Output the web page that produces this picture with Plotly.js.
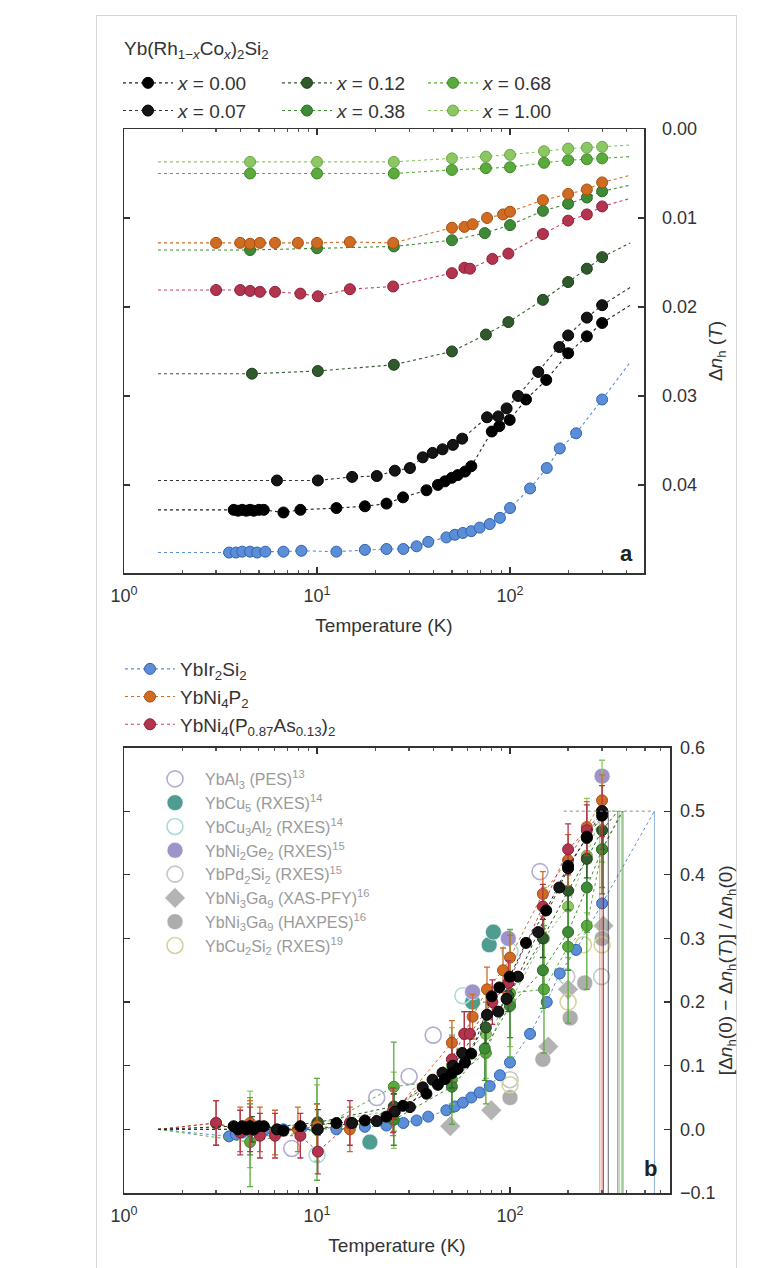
<!DOCTYPE html>
<html><head><meta charset="utf-8">
<script src="https://cdn.plot.ly/plotly-3.0.1.min.js"></script>
<style>
html,body{margin:0;padding:0;background:#fff;}
#frame{position:absolute;left:96px;top:15px;width:639px;height:1262px;border:1px solid #d6d6d6;border-bottom:none;}
#chart{position:absolute;left:0;top:0;width:761px;height:1268px;}
</style>
</head><body><div id="frame"></div><div id="chart"></div>
<script>
// ---------------- DATA ----------------
const T_LOW = 1.5;            // low-temperature end of the fitted (dotted) curves
const T_HIGH = 420;           // high-temperature end of the fitted curves in panel a
const B_ZERO = 0;             // normalised value of every fit at T -> 0 (panel b)
const HALF_LINE_START = 190;  // start of the dotted 0.5 guide line in panel b

// Yb(Rh1-xCox)2Si2
const T_x000 = [3.7,3.9,4.1,4.3,4.5,4.7,5.0,5.3,6.7,8.2,12.6,17.7,22.9,27.9,36.9,42.3,46,49.9,53.6,58.5,63,80.4,88,99.6,121,154,200,250,300];
const a_x000 = [0.0428,0.0429,0.0428,0.0429,0.0428,0.0429,0.0428,0.0428,0.0431,0.0428,0.0426,0.0424,0.0421,0.0414,0.0406,0.0400,0.0396,0.0392,0.0389,0.0385,0.0379,0.0340,0.0334,0.0327,0.0304,0.0282,0.0252,0.0233,0.0218];
const b_x000 = [0.005,0.0,0.005,0.0,0.005,0.0,0.005,0.005,-0.002,0.005,0.01,0.014,0.02,0.037,0.056,0.07,0.079,0.088,0.095,0.105,0.119,0.209,0.223,0.24,0.293,0.344,0.414,0.458,0.493];

const T_x007 = [6.2,10.1,15.2,20.4,25.3,30.3,35.3,39.7,44.7,50.6,56.5,76,87,96,110,140,180,200,250,300];
const a_x007 = [0.0395,0.0395,0.0391,0.0390,0.0384,0.0381,0.0369,0.0364,0.0360,0.0355,0.0348,0.0324,0.0323,0.0314,0.0300,0.0273,0.0245,0.0232,0.0212,0.0198];
const b_x007 = [0.0,0.0,0.01,0.013,0.028,0.035,0.066,0.078,0.089,0.10,0.12,0.18,0.185,0.205,0.24,0.31,0.38,0.41,0.46,0.50];

const T_x012 = [4.6,10.1,25,50,75,98,148,200,250,300];
const a_x012 = [0.0275,0.0272,0.0265,0.0250,0.0231,0.0217,0.0192,0.0172,0.0157,0.0144];
const b_x012 = [0.0,0.011,0.036,0.09,0.16,0.21,0.30,0.375,0.425,0.47];
const e_x012 = [0.02,0.02,0.02,0.025,0.025,0.025,0.03,0.03,0.03,0.03];

const T_x038 = [4.5,10,25,50,74,100,148,200,250,300];
const a_x038 = [0.0136,0.0134,0.0132,0.0125,0.0117,0.0108,0.0092,0.0084,0.0077,0.0070];
const b_x038 = [0.0,0.0,0.015,0.067,0.127,0.194,0.25,0.31,0.38,0.44];
const e_x038 = [0.04,0.04,0.04,0.04,0.05,0.05,0.06,0.06,0.07,0.07];

const T_x068 = [4.5,10,25,50,75,100,150,200,250,300];
const a_x068 = [0.0050,0.0050,0.0050,0.0046,0.0044,0.0043,0.0038,0.0035,0.0034,0.0033];
const b_x068 = [-0.02,0.0,0.067,0.078,0.12,0.214,0.22,0.287,0.32,0.44];
const e_x068 = [0.07,0.08,0.07,0.07,0.08,0.10,0.10,0.12,0.10,0.06];

const T_x100 = [4.5,10,25,50,75,100,150,200,250,300];
const a_x100 = [0.0037,0.0037,0.0037,0.0033,0.0031,0.0029,0.0025,0.0022,0.0021,0.0020];
const b_x100 = [0.0,0.01,0.03,0.1,0.15,0.2,0.30,0.35,0.43,0.50];
const e_x100 = [0.06,0.06,0.06,0.06,0.07,0.07,0.08,0.08,0.09,0.08];

// YbIr2Si2
const T_ir = [3.5,3.8,4.1,4.5,4.9,5.4,6.7,8.3,12.6,17.7,22.9,28,32.8,37.7,46.8,51.8,57,63,69.6,78.5,88.6,100,127,155,181,220,300];
const a_ir = [0.0476,0.0476,0.0475,0.0475,0.0476,0.0475,0.0475,0.0474,0.0475,0.0473,0.0472,0.0472,0.0469,0.0464,0.0459,0.0456,0.0454,0.0452,0.0448,0.0444,0.0437,0.0426,0.0404,0.0381,0.0359,0.0342,0.0304];
const b_ir = [-0.011,-0.008,-0.005,-0.003,0.0,0.0,0.0,0.002,0.0,0.004,0.006,0.01,0.014,0.02,0.03,0.036,0.042,0.05,0.058,0.068,0.085,0.105,0.15,0.2,0.245,0.282,0.355];

// YbNi4P2
const T_p = [3,4,4.5,5.06,6.06,7.96,10,14.8,24.8,50,58,64,76,92,100,148,200,250,300];
const a_p = [0.0128,0.0128,0.0129,0.0128,0.0128,0.0128,0.0128,0.0127,0.0128,0.0111,0.0110,0.0107,0.0100,0.0096,0.0093,0.0080,0.0073,0.0068,0.0060];
const b_p = [0.01,0.0,0.01,0.0,-0.005,0.0,0.005,0.0,0.025,0.136,0.15,0.177,0.22,0.25,0.27,0.37,0.423,0.475,0.517];
const e_p = [0.035,0.035,0.035,0.035,0.035,0.035,0.035,0.035,0.035,0.035,0.035,0.035,0.035,0.035,0.035,0.035,0.04,0.04,0.04];

// YbNi4(P0.87As0.13)2
const T_as = [3,4,4.5,5.06,6.06,8.2,10.1,14.8,24.8,50,58,62,81,98,148,200,250,300];
const a_as = [0.0181,0.0181,0.0182,0.0183,0.0183,0.0185,0.0188,0.0180,0.0177,0.0162,0.0156,0.0157,0.0146,0.0140,0.0118,0.0103,0.0096,0.0087];
const b_as = [0.01,-0.005,0.0,-0.01,-0.01,-0.01,-0.035,0.01,0.03,0.11,0.15,0.15,0.20,0.23,0.35,0.44,0.47,0.50];
const e_as = [0.035,0.035,0.035,0.035,0.035,0.035,0.035,0.035,0.035,0.035,0.035,0.035,0.035,0.035,0.035,0.04,0.04,0.04];

// panel a: value of each fit at T_HIGH (end of the dotted curves)
const end_x000 = 0.0198, end_x007 = 0.0178, end_x012 = 0.0128, end_x038 = 0.0063, end_x068 = 0.0031, end_x100 = 0.0018;
const end_ir = 0.0262, end_p = 0.0052, end_as = 0.0078;

// panel b: temperatures where the fits reach 0.5
const half_x000 = 323, half_x007 = 305, half_x012 = 362, half_x038 = 385, half_x068 = 380, half_x100 = 370;
const half_ir = 560, half_p = 292, half_as = 300;

// literature (panel b)
const T_al3 = [7.4,20.4,30,40,143];        const v_al3 = [-0.03,0.05,0.083,0.148,0.405];
const T_cu5 = [18.8,64,78,82];             const v_cu5 = [-0.02,0.20,0.29,0.31];
const T_cu3al2 = [10,57,100];              const v_cu3al2 = [-0.04,0.21,0.28];
const T_ni2ge2 = [64,98,300];              const v_ni2ge2 = [0.216,0.30,0.555];
const T_pd2si2 = [100,197,298];            const v_pd2si2 = [0.078,0.24,0.24];
const T_ga9x = [49,80,158,200,305];        const v_ga9x = [0.005,0.03,0.13,0.22,0.32];
const T_ga9h = [100,148,205,244,300];      const v_ga9h = [0.05,0.11,0.175,0.23,0.30];
const T_cu2si2 = [100,200,240,300];        const v_cu2si2 = [0.07,0.2,0.29,0.29];

// tick labels
const X_TICKS = [1,10,100];
const X_TICKTEXT = ['10<sup>0</sup>','10<sup>1</sup>','10<sup>2</sup>'];
const A_TICKS = [0,0.01,0.02,0.03,0.04];
const B_TICKS = [-0.1,0,0.1,0.2,0.3,0.4,0.5,0.6];

// ---------------- STYLE ----------------
const FONT = 'Liberation Sans, Arial, sans-serif';
const ST = {
  x000:{fill:'#000000',edge:'#000000',line:'#222222'},
  x007:{fill:'#151515',edge:'#000000',line:'#333333'},
  x012:{fill:'#2f5a2c',edge:'#1f3f1c',line:'#2f5a2c'},
  x038:{fill:'#3f8a36',edge:'#2c6a26',line:'#3f8a36'},
  x068:{fill:'#5aab3c',edge:'#3f8a2a',line:'#5aab3c'},
  x100:{fill:'#8cc764',edge:'#6aa848',line:'#8cc764'},
  ir:{fill:'#5b8ed6',edge:'#2f62b3',line:'#5b8ed6'},
  p:{fill:'#d06b22',edge:'#a85010',line:'#d06b22'},
  as:{fill:'#b3344e',edge:'#8c1f38',line:'#c0405a'}
};
const A_XRANGE = [0, 2.694], B_XRANGE = [0, 2.829];
const A_YRANGE = [0.0499, 0], B_YRANGE = [-0.1, 0.6];

const minorVals = [];
[1,10,100].forEach(d => { for (let k = 2; k <= 9; k++) minorVals.push(k*d); });

const traces = [];

function addA(T, V, end, st, name, legend) {
  const last = T.length - 1;
  traces.push({type:'scatter', mode:'lines', x:[T_LOW, T[0]], y:[V[0], V[0]], xaxis:'x', yaxis:'y',
    line:{color:st.line, width:1.1, dash:'dot'}, showlegend:false, hoverinfo:'skip'});
  traces.push({type:'scatter', mode:'lines', x:[T[last], T_HIGH], y:[V[last], end], xaxis:'x', yaxis:'y',
    line:{color:st.line, width:1.1, dash:'dot'}, showlegend:false, hoverinfo:'skip'});
  traces.push({type:'scatter', mode:'lines+markers', x:T, y:V, xaxis:'x', yaxis:'y', name:name,
    legend:legend, showlegend:true,
    line:{color:st.line, width:1.1, dash:'dot'},
    marker:{color:st.fill, size:11, line:{color:st.edge, width:1}}, hoverinfo:'skip'});
}

function addB(T, V, E, st, half) {
  const last = T.length - 1;
  traces.push({type:'scatter', mode:'lines', x:[T_LOW, T[0]], y:[B_ZERO, V[0]], xaxis:'x2', yaxis:'y2',
    line:{color:st.line, width:1, dash:'dot'}, showlegend:false, hoverinfo:'skip'});
  traces.push({type:'scatter', mode:'lines', x:[T[last], half], y:[V[last], 0.5], xaxis:'x2', yaxis:'y2',
    line:{color:st.line, width:1, dash:'dot'}, showlegend:false, hoverinfo:'skip'});
  traces.push({type:'scatter', mode:'lines', x:[half, half], y:[B_YRANGE[0], 0.5], xaxis:'x2', yaxis:'y2',
    line:{color:st.line, width:1}, opacity:0.7, showlegend:false, hoverinfo:'skip'});
  const tr = {type:'scatter', mode:'lines+markers', x:T, y:V, xaxis:'x2', yaxis:'y2',
    line:{color:st.line, width:1, dash:'dot'},
    marker:{color:st.fill, size:11, line:{color:st.edge, width:1}}, showlegend:false, hoverinfo:'skip'};
  if (E) tr.error_y = {type:'data', array:E, visible:true, color:st.fill, thickness:1.3, width:3};
  traces.push(tr);
}

function addLit(T, V, name, symbol, color, open) {
  traces.push({type:'scatter', mode:'markers', x:T, y:V, xaxis:'x2', yaxis:'y2', name:name, legend:'legend5',
    marker:{symbol:symbol, size:16, color:color,
      line: open ? {color:color, width:1.6} : {color:'rgba(255,255,255,0.6)', width:1}},
    hoverinfo:'skip'});
}

// ---- panel b literature (drawn first, behind) ----
addLit(T_al3, v_al3, 'YbAl<sub>3</sub> (PES)<sup>13</sup>', 'circle-open', '#b5acd4', true);
addLit(T_cu5, v_cu5, 'YbCu<sub>5</sub> (RXES)<sup>14</sup>', 'circle', '#4e9d90', false);
addLit(T_cu3al2, v_cu3al2, 'YbCu<sub>3</sub>Al<sub>2</sub> (RXES)<sup>14</sup>', 'circle-open', '#a9dcda', true);
addLit(T_ni2ge2, v_ni2ge2, 'YbNi<sub>2</sub>Ge<sub>2</sub> (RXES)<sup>15</sup>', 'circle', '#9d94cc', false);
addLit(T_pd2si2, v_pd2si2, 'YbPd<sub>2</sub>Si<sub>2</sub> (RXES)<sup>15</sup>', 'circle-open', '#c6c6c6', true);
addLit(T_ga9x, v_ga9x, 'YbNi<sub>3</sub>Ga<sub>9</sub> (XAS-PFY)<sup>16</sup>', 'diamond', '#b4b4b4', false);
addLit(T_ga9h, v_ga9h, 'YbNi<sub>3</sub>Ga<sub>9</sub> (HAXPES)<sup>16</sup>', 'circle', '#adadad', false);
addLit(T_cu2si2, v_cu2si2, 'YbCu<sub>2</sub>Si<sub>2</sub> (RXES)<sup>19</sup>', 'circle-open', '#d8d29a', true);

// ---- panel b series ----
addB(T_ir, b_ir, null, ST.ir, half_ir);
addB(T_x100, b_x100, e_x100, ST.x100, half_x100);
addB(T_x068, b_x068, e_x068, ST.x068, half_x068);
addB(T_x038, b_x038, e_x038, ST.x038, half_x038);
addB(T_x012, b_x012, e_x012, ST.x012, half_x012);
addB(T_p, b_p, e_p, ST.p, half_p);
addB(T_as, b_as, e_as, ST.as, half_as);
addB(T_x007, b_x007, null, ST.x007, half_x007);
addB(T_x000, b_x000, null, ST.x000, half_x000);
const halves = [half_x000, half_x007, half_x012, half_x038, half_x068, half_x100, half_ir, half_p, half_as];
traces.push({type:'scatter', mode:'lines', x:[HALF_LINE_START, Math.max(...halves)], y:[0.5, 0.5], xaxis:'x2', yaxis:'y2',
  line:{color:'#888', width:1, dash:'dot'}, showlegend:false, hoverinfo:'skip'});

// ---- panel a ----
addA(T_x000, a_x000, end_x000, ST.x000, '<i>x</i> = 0.00', 'legend');
addA(T_x007, a_x007, end_x007, ST.x007, '<i>x</i> = 0.07', 'legend');
addA(T_x012, a_x012, end_x012, ST.x012, '<i>x</i> = 0.12', 'legend2');
addA(T_x038, a_x038, end_x038, ST.x038, '<i>x</i> = 0.38', 'legend2');
addA(T_x068, a_x068, end_x068, ST.x068, '<i>x</i> = 0.68', 'legend3');
addA(T_x100, a_x100, end_x100, ST.x100, '<i>x</i> = 1.00', 'legend3');
addA(T_ir, a_ir, end_ir, ST.ir, 'YbIr<sub>2</sub>Si<sub>2</sub>', 'legend4');
addA(T_p, a_p, end_p, ST.p, 'YbNi<sub>4</sub>P<sub>2</sub>', 'legend4');
addA(T_as, a_as, end_as, ST.as, 'YbNi<sub>4</sub>(P<sub>0.87</sub>As<sub>0.13</sub>)<sub>2</sub>', 'legend4');

// ---------------- LAYOUT ----------------
const W = 761, H = 1268;
const px = v => v / W, py = v => 1 - v / H;

function xAxis(range, domain, anchor) {
  return {type:'log', range:range, domain:domain, anchor:anchor,
    tickvals:X_TICKS, ticktext:X_TICKTEXT, ticks:'inside', ticklen:6, tickwidth:1.2, tickcolor:'#333',
    minor:{tickvals:minorVals, ticks:'inside', ticklen:3, tickcolor:'#555', showgrid:false},
    showline:true, linecolor:'#333', linewidth:1.5, mirror:'ticks', showgrid:false, zeroline:false,
    ticklabelstandoff:6,
    tickfont:{family:FONT, size:18, color:'#333'},
    title:{text:'Temperature (K)', font:{family:FONT, size:19, color:'#333'}, standoff:13}};
}

const legendBase = (x, y, size, color) => ({x:x, y:y, xanchor:'left', yanchor:'top', xref:'paper', yref:'paper',
  bgcolor:'rgba(0,0,0,0)', borderwidth:0, orientation:'v', traceorder:'normal', itemwidth:50,
  font:{family:FONT, size:size, color:color}, itemsizing:'trace'});

const layout = {
  width:W, height:H, margin:{l:0, r:0, t:0, b:0},
  paper_bgcolor:'rgba(0,0,0,0)', plot_bgcolor:'rgba(0,0,0,0)',
  font:{family:FONT, color:'#333'},
  xaxis: xAxis(A_XRANGE, [px(124), px(644)], 'y'),
  yaxis: {range:A_YRANGE, domain:[py(573), py(129)], anchor:'x', side:'right',
    tickvals:A_TICKS, tickformat:'.2f', ticks:'inside', ticklen:6, tickwidth:1.2, tickcolor:'#333',
    showline:true, linecolor:'#333', linewidth:1.5, mirror:'ticks', showgrid:false, zeroline:false,
    ticklabelstandoff:13,
    tickfont:{family:FONT, size:18, color:'#333'},
    title:{text:'Δ<i>n</i><sub>h</sub> (<i>T</i>)', font:{family:FONT, size:19, color:'#333'}, standoff:12}},
  xaxis2: xAxis(B_XRANGE, [px(124), px(670)], 'y2'),
  yaxis2: {range:B_YRANGE, domain:[py(1193), py(747.5)], anchor:'x2', side:'right',
    tickvals:B_TICKS, tickformat:'.1f', ticks:'inside', ticklen:6, tickwidth:1.2, tickcolor:'#333',
    showline:true, linecolor:'#333', linewidth:1.5, mirror:'ticks', showgrid:false, zeroline:false,
    ticklabelstandoff:5,
    tickfont:{family:FONT, size:18, color:'#333'},
    title:{text:'[Δ<i>n</i><sub>h</sub>(0) − Δ<i>n</i><sub>h</sub>(<i>T</i>)] / Δ<i>n</i><sub>h</sub>(0)', font:{family:FONT, size:19, color:'#333'}, standoff:4}},
  legend: legendBase(px(118), py(64), 19, '#333'),
  legend2: legendBase(px(277), py(64), 19, '#333'),
  legend3: legendBase(px(423), py(64), 19, '#333'),
  legend4: legendBase(px(120), py(650), 19, '#333'),
  legend5: legendBase(px(145), py(762), 16, '#9a9a9a'),
  showlegend:true,
  annotations:[
    {text:'Yb(Rh<sub>1−<i>x</i></sub>Co<sub><i>x</i></sub>)<sub>2</sub>Si<sub>2</sub>', xref:'paper', yref:'paper',
      x:px(122), y:py(50), xanchor:'left', yanchor:'middle', showarrow:false, font:{family:FONT, size:19, color:'#333'}},
    {text:'<b>a</b>', xref:'paper', yref:'paper', x:px(626), y:py(554), xanchor:'center', yanchor:'middle', showarrow:false,
      font:{family:FONT, size:22, color:'#222'}},
    {text:'<b>b</b>', xref:'paper', yref:'paper', x:px(650), y:py(1168), xanchor:'center', yanchor:'middle', showarrow:false,
      font:{family:FONT, size:22, color:'#222'}}
  ]
};

Plotly.newPlot('chart', traces, layout, {displayModeBar:false, staticPlot:true});
</script>
</body></html>
